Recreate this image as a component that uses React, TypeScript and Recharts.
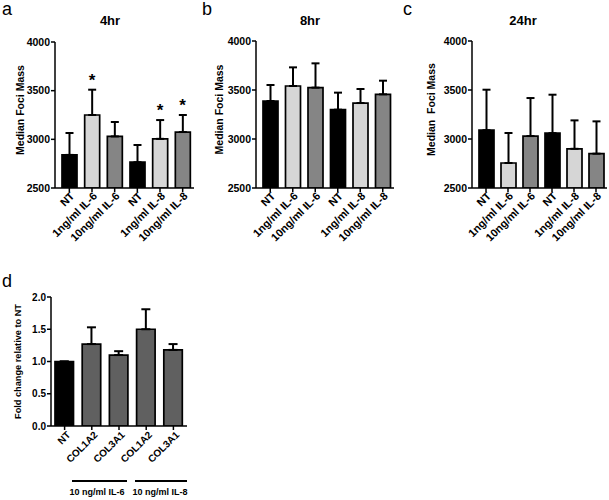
import React from 'react';
import { ComposedChart, Bar, Line, XAxis, YAxis, ErrorBar, Cell } from 'recharts';

const FONT = '"Liberation Sans", Arial, Helvetica, sans-serif';

// ---------- data ----------
const timeCategories = ['NT', '1ng/ml IL-6', '10ng/ml IL-6', 'NT', '1ng/ml IL-8', '10ng/ml IL-8'];
const timeGroups = ['nt', 'low', 'high', 'nt', 'low', 'high'];

const mass4hr = [2840, 3250, 3030, 2765, 3005, 3075];
const err4hr = [225, 260, 148, 177, 193, 175];
const sig4hr = [false, true, false, false, true, true];

const mass8hr = [3388, 3541, 3524, 3299, 3367, 3456];
const err8hr = [163, 190, 248, 174, 143, 139];

const mass24hr = [3090, 2755, 3030, 3060, 2900, 2850];
const err24hr = [413, 306, 388, 392, 290, 330];

const massTicks = [2500, 3000, 3500, 4000];

const geneCategories = ['NT', 'COL1A2', 'COL3A1', 'COL1A2', 'COL3A1'];
const geneGroups = ['nt', 'gene', 'gene', 'gene', 'gene'];
const foldChange = [1.0, 1.27, 1.1, 1.5, 1.18];
const foldErr = [0, 0.26, 0.06, 0.31, 0.09];
const foldTicks = [0, 0.5, 1, 1.5, 2];

const COLORS: Record<string, string> = {
  nt: '#000000',
  low: '#d6d6d6',
  high: '#858585',
  gene: '#606060',
};

const buildTimeRows = (vals: number[], errs: number[], sig?: boolean[]) =>
  timeCategories.map((label, i) => ({
    label,
    value: vals[i],
    err: [0, errs[i]],
    star: sig && sig[i] ? vals[i] + errs[i] : null,
    fill: COLORS[timeGroups[i]],
  }));

const rows4 = buildTimeRows(mass4hr, err4hr, sig4hr);
const rows8 = buildTimeRows(mass8hr, err8hr);
const rows24 = buildTimeRows(mass24hr, err24hr);

const geneRows = geneCategories.map((label, i) => ({
  label,
  value: foldChange[i],
  err: [0, foldErr[i]],
  fill: COLORS[geneGroups[i]],
}));

// ---------- components ----------
const SlantTick = (props: any) => {
  const { x, y, payload, fontSize = 11, ox = 3, oy = 1 } = props;
  return (
    <g transform={`translate(${x + ox},${y + oy}) rotate(-45)`}>
      <text
        x={0}
        y={0}
        dy="0.35em"
        textAnchor="end"
        fontSize={fontSize}
        fontWeight="bold"
        fontFamily={FONT}
        fill="#000"
      >
        {payload.value}
      </text>
    </g>
  );
};

const YTitle = (props: any) => {
  const { viewBox, text, x0, shift = 0, fontSize = 10 } = props;
  const cy = viewBox.y + viewBox.height / 2 + shift;
  return (
    <text
      x={x0}
      y={cy}
      transform={`rotate(-90 ${x0} ${cy})`}
      textAnchor="middle"
      dominantBaseline="central"
      fontSize={fontSize}
      fontWeight="bold"
      fontFamily={FONT}
      fill="#000"
      style={{ whiteSpace: 'pre' }}
    >
      {text}
    </text>
  );
};

const StarDot = (props: any) => {
  const { cx, cy, payload, index } = props;
  if (!payload || payload.star == null || cy == null) return <g key={`st-${index}`} />;
  return (
    <text
      key={`st-${index}`}
      x={cx}
      y={cy - 4}
      textAnchor="middle"
      fontSize={17}
      fontWeight="bold"
      fontFamily={FONT}
      fill="#000"
    >
      *
    </text>
  );
};

const axisStyle = { stroke: '#000', strokeWidth: 1.5 };
const yTickStyle = { fill: '#000', fontSize: 10.5, fontWeight: 'bold', fontFamily: FONT };

const TimePanel = ({ rows, left, width, right, top, yTitle, titleX, titleShift }: any) => (
  <div style={{ position: 'absolute', left, top: 0 }}>
    <ComposedChart
      width={width}
      height={250}
      data={rows}
      margin={{ top, right, left: 0, bottom: 0 }}
    >
      <XAxis
        dataKey="label"
        interval={0}
        height={250 - 188}
        tickSize={4}
        tickMargin={2}
        axisLine={axisStyle}
        tickLine={axisStyle}
        padding={{ left: 3, right: 0 }}
        tick={<SlantTick fontSize={11} ox={3} oy={0} />}
      />
      <YAxis
        domain={[2500, 4000]}
        ticks={massTicks}
        allowDataOverflow
        width={55}
        tickSize={4}
        tickMargin={1}
        axisLine={axisStyle}
        tickLine={axisStyle}
        tick={yTickStyle}
        label={<YTitle text={yTitle} x0={titleX} shift={titleShift} fontSize={10.5} />}
      />
      <Bar dataKey="value" barSize={15} stroke="#000" strokeWidth={1.7} isAnimationActive={false}>
        {rows.map((r: any, i: number) => (
          <Cell key={i} fill={r.fill} />
        ))}
        <ErrorBar dataKey="err" direction="y" width={4} stroke="#000" strokeWidth={2} isAnimationActive={false} />
      </Bar>
      <Line
        dataKey="star"
        stroke="none"
        dot={<StarDot />}
        activeDot={false}
        legendType="none"
        isAnimationActive={false}
      />
    </ComposedChart>
  </div>
);

export default function App() {
  return (
    <div
      style={{
        position: 'absolute',
        left: 0,
        top: 0,
        width: 609,
        height: 500,
        background: '#fff',
        overflow: 'hidden',
        fontFamily: FONT,
      }}
    >
      <TimePanel rows={rows4} left={0} width={200} right={6} top={42} yTitle="Median Foci Mass" titleX={20} titleShift={-5} />
      <TimePanel rows={rows8} left={201} width={200} right={7} top={41} yTitle="Median Foci Mass" titleX={18} titleShift={-5} />
      <TimePanel rows={rows24} left={417} width={192} right={2} top={41} yTitle="Median  Foci Mass" titleX={14} titleShift={-5} />

      <div style={{ position: 'absolute', left: 0, top: 270 }}>
        <ComposedChart
          width={200}
          height={230}
          data={geneRows}
          margin={{ top: 27, right: 13, left: 0, bottom: 0 }}
        >
          <XAxis
            dataKey="label"
            interval={0}
            height={74}
            tickSize={4}
            tickMargin={2}
            axisLine={axisStyle}
            tickLine={axisStyle}
            tick={<SlantTick fontSize={10} ox={4} oy={1} />}
          />
          <YAxis
            domain={[0, 2]}
            ticks={foldTicks}
            allowDataOverflow
            width={51}
            tickSize={4}
            tickMargin={1}
            axisLine={axisStyle}
            tickLine={axisStyle}
            tick={{ ...yTickStyle, fontSize: 10 }}
            tickFormatter={(v: number) => v.toFixed(1)}
            label={<YTitle text="Fold change relative to NT" x0={18} shift={0} fontSize={9.2} />}
          />
          <Bar dataKey="value" barSize={18.5} stroke="#000" strokeWidth={1.7} isAnimationActive={false}>
            {geneRows.map((r, i) => (
              <Cell key={i} fill={r.fill} />
            ))}
            <ErrorBar dataKey="err" direction="y" width={4.5} stroke="#000" strokeWidth={2} isAnimationActive={false} />
          </Bar>
        </ComposedChart>
      </div>

      <svg
        width={609}
        height={500}
        style={{ position: 'absolute', left: 0, top: 0, pointerEvents: 'none' }}
      >
        <g fontFamily={FONT} fill="#000">
          <text x={2} y={15} fontSize={18}>a</text>
          <text x={202} y={15} fontSize={18}>b</text>
          <text x={403} y={15} fontSize={18}>c</text>
          <text x={2} y={287} fontSize={18}>d</text>

          <text x={110} y={25} fontSize={13} fontWeight="bold" textAnchor="middle">4hr</text>
          <text x={310} y={25} fontSize={13} fontWeight="bold" textAnchor="middle">8hr</text>
          <text x={523} y={25} fontSize={13} fontWeight="bold" textAnchor="middle">24hr</text>

          <line x1={72} y1={481} x2={127} y2={481} stroke="#000" strokeWidth={2} />
          <line x1={135} y1={481} x2={187} y2={481} stroke="#000" strokeWidth={2} />
          <text x={97} y={495} fontSize={9} fontWeight="bold" textAnchor="middle">10 ng/ml IL-6</text>
          <text x={160} y={495} fontSize={9} fontWeight="bold" textAnchor="middle">10 ng/ml IL-8</text>
        </g>
      </svg>
    </div>
  );
}
